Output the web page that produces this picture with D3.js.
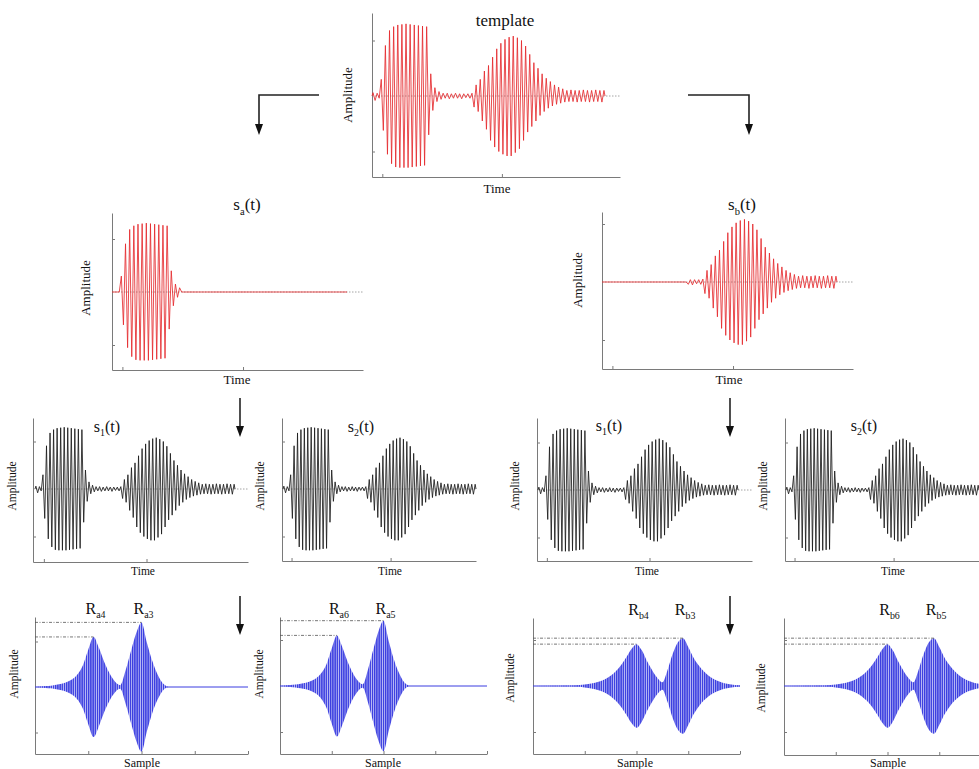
<!DOCTYPE html>
<html>
<head>
<meta charset="utf-8">
<script src="https://cdn.jsdelivr.net/npm/d3@7"></script>
<style>
  body { margin: 0; background: #fff; }
  svg { display: block; }
  text { font-family: "Liberation Serif", "Times New Roman", serif; fill: #111; }
</style>
</head>
<body>
<svg id="fig" width="979" height="769"></svg>
<script>
// ---- Signal data: successive half-cycle extrema of the received waveform ----
const leadIn  = [0.06, -0.08, 0.05, -0.04];
const burstA  = [0.30, -0.62, 0.91, -1.05, 1.18, -1.22, 1.25, -1.28, 1.28, -1.29,
                 1.29, -1.29, 1.30, -1.29, 1.29, -1.28, 1.28, -1.27, 1.27, -1.26,
                 1.26, -1.25, 1.25, -0.70, 0.40, -0.26, 0.15, -0.10, 0.08];
const ringing = [-0.06, 0.05, -0.04, 0.05, -0.05, 0.04, -0.04, 0.05,
                 -0.04, 0.04, -0.05, 0.04, -0.03, 0.04, -0.04, 0.05];
const burstB  = [-0.20, 0.20, -0.28, 0.30, -0.45, 0.45, -0.60, 0.55, -0.80, 0.70,
                 -0.92, 0.85, -1.00, 0.95, -1.05, 1.02, -1.08, 1.06, -1.08, 1.08,
                 -1.02, 1.05, -0.95, 1.00, -0.80, 0.90, -0.65, 0.75, -0.55, 0.60,
                 -0.45, 0.50, -0.35, 0.40, -0.28, 0.32, -0.22, 0.26, -0.18, 0.20,
                 -0.15, 0.16, -0.13, 0.13];
const tailB   = [-0.11, 0.10, -0.10, 0.11, -0.10, 0.10, -0.11, 0.10, -0.10, 0.11,
                 -0.10, 0.10, -0.11, 0.10, -0.10, 0.11, -0.10, 0.10, -0.11, 0.10];

// ---- Correlation envelopes (sample index, amplitude) ----
const corrASamples  = [0, 10, 20, 30, 40, 50, 60, 70, 80, 90, 100, 110, 120, 130, 140,
                       150, 160, 170, 180, 190, 200, 210, 220, 230, 240, 250];
const corrAEnvelope = [0, 0.01, 0.02, 0.03, 0.05, 0.07, 0.11, 0.17, 0.28, 0.48, 0.82, 1.10,
                       0.86, 0.55, 0.30, 0.12, 0.04, 0.36, 0.78, 1.18, 1.42, 0.98, 0.58,
                       0.28, 0.08, 0];
const corrBSamples  = [0, 80, 100, 120, 140, 160, 170, 180, 190, 200, 210, 220, 230, 240,
                       250, 260, 270, 280, 290, 300, 310, 320, 340, 360, 380, 400];
const corrBEnvelope = [0, 0.01, 0.03, 0.07, 0.15, 0.32, 0.45, 0.62, 0.80, 0.91, 0.78, 0.55,
                       0.35, 0.18, 0.08, 0.35, 0.70, 0.95, 1.04, 0.85, 0.62, 0.45, 0.22,
                       0.10, 0.04, 0.01];

// ---- Tick positions ----
const timeTicks   = [5, 63];
const ampTicks    = [-1, 1];
const sampleTicks = [0, 100, 200, 300, 400];

// ---- Derived signals ----
const zeros = n => new Array(n).fill(0);
const templateSignal = leadIn.concat(burstA, ringing, burstB, tailB);
const saSignal = zeros(leadIn.length).concat(burstA, zeros(ringing.length + burstB.length + tailB.length));
const sbSignal = zeros(leadIn.length + burstA.length + 8).concat(ringing.slice(8), burstB, tailB);
const signals = { template: templateSignal, sa: saSignal, sb: sbSignal };
const envelopes = {
  A: corrASamples.map((s, i) => [s, corrAEnvelope[i]]),
  B: corrBSamples.map((s, i) => [s, corrBEnvelope[i]])
};

const RED = "#e52a2e", BLACK = "#1b1b1b", BLUE = "#3a3de0", AXIS = "#7a7a7a";

const svg = d3.select("#fig");
const defs = svg.append("defs");
// vertical stripes standing in for the dense carrier of the correlation output
const pat = defs.append("pattern").attr("id", "carrier")
  .attr("patternUnits", "userSpaceOnUse").attr("width", 2.2).attr("height", 10);
pat.append("rect").attr("width", 2.2).attr("height", 10).attr("fill", "#c2c3f6");
pat.append("rect").attr("width", 1.4).attr("height", 10).attr("fill", BLUE);

function label(g, x, y, size, main, sub, tail, rotate) {
  const t = g.append("text").attr("text-anchor", "middle").attr("font-size", size);
  if (rotate) t.attr("transform", `translate(${x},${y}) rotate(-90)`);
  else t.attr("x", x).attr("y", y);
  t.append("tspan").text(main);
  if (sub) {
    t.append("tspan").attr("font-size", size * 0.62).attr("dy", size * 0.28).text(sub);
    if (tail) t.append("tspan").attr("dy", -size * 0.28).text(tail);
  }
  return t;
}

function axes(g, x, y, xTicks) {
  const bottom = y.range()[0];
  const gx = g.append("g").attr("transform", `translate(0,${bottom})`)
    .call(d3.axisBottom(x).tickValues(xTicks).tickSizeInner(-3).tickSizeOuter(0).tickFormat(""));
  const gy = g.append("g").attr("transform", `translate(${x.range()[0]},0)`)
    .call(d3.axisLeft(y).tickValues(ampTicks).tickSizeInner(-3).tickSizeOuter(0).tickFormat(""));
  [gx, gy].forEach(a => {
    a.selectAll("path,line").attr("stroke", AXIS).attr("stroke-width", 1);
  });
}

// ---- Time-domain panels ----
const timePanels = [
  { sig: "template", color: RED, left: 372, right: 620, top: 13, bottom: 177, zero: 96, unit: 55.5, span: [372, 605],
    title: ["template"], tx: 505, ty: 26, ts: 17, ly: [352, 95], lx: [497, 193], ls: 13 },
  { sig: "sa", color: RED, left: 112, right: 363, top: 213, bottom: 370, zero: 292, unit: 53, span: [112, 347],
    title: ["s", "a", "(t)"], tx: 247, ty: 210, ts: 17, ly: [90, 288], lx: [237, 384], ls: 13 },
  { sig: "sb", color: RED, left: 602, right: 853, top: 212, bottom: 369, zero: 282, unit: 58, span: [602, 837],
    title: ["s", "b", "(t)"], tx: 742, ty: 210, ts: 17, ly: [582, 280], lx: [729, 384], ls: 13 },
  { sig: "template", color: BLACK, left: 33, right: 248, top: 418, bottom: 562, zero: 489, unit: 47.5, span: [35, 235],
    title: ["s", "1", "(t)"], tx: 107, ty: 432, ts: 16, ly: [16, 486], lx: [143, 575], ls: 11.5 },
  { sig: "template", color: BLACK, left: 282, right: 476, top: 418, bottom: 561, zero: 489, unit: 47.5, span: [283, 476],
    title: ["s", "2", "(t)"], tx: 361, ty: 432, ts: 16, ly: [264, 486], lx: [390, 575], ls: 11.5 },
  { sig: "template", color: BLACK, left: 537, right: 752, top: 418, bottom: 561, zero: 490, unit: 47.5, span: [538, 738],
    title: ["s", "1", "(t)"], tx: 609, ty: 431, ts: 16, ly: [519, 486], lx: [647, 575], ls: 11.5 },
  { sig: "template", color: BLACK, left: 785, right: 979, top: 418, bottom: 561, zero: 490, unit: 47.5, span: [786, 979],
    title: ["s", "2", "(t)"], tx: 864, ty: 431, ts: 16, ly: [767, 486], lx: [893, 575], ls: 11.5 }
];

const wave = d3.line();

timePanels.forEach(p => {
  const values = signals[p.sig];
  const n = values.length;
  const ppu = (p.span[1] - p.span[0]) / n;
  const x = d3.scaleLinear()
    .domain([(p.left - p.span[0]) / ppu, n + (p.right - p.span[1]) / ppu])
    .range([p.left, p.right]);
  const y = d3.scaleLinear()
    .domain([-(p.bottom - p.zero) / p.unit, (p.zero - p.top) / p.unit])
    .range([p.bottom, p.top]);
  const g = svg.append("g");

  // dotted zero reference
  g.append("line")
    .attr("x1", x.range()[0]).attr("x2", x.range()[1])
    .attr("y1", y(0)).attr("y2", y(0))
    .attr("stroke", "#8d8d8d").attr("stroke-width", 0.8).attr("stroke-dasharray", "1.5,1.5");

  axes(g, x, y, timeTicks);

  const pts = [[0, 0]].concat(values.map((v, i) => [i + 0.5, v]), [[n, 0]]);
  wave.x(d => x(d[0])).y(d => y(d[1]));
  g.append("path").attr("d", wave(pts))
    .attr("fill", "none").attr("stroke", p.color).attr("stroke-width", 0.85)
    .attr("stroke-linejoin", "miter");

  label(g, p.tx, p.ty, p.ts, p.title[0], p.title[1], p.title[2]);
  label(g, p.ly[0], p.ly[1], p.ls, "Amplitude", null, null, true);
  label(g, p.lx[0], p.lx[1], p.ls, "Time");
});

// ---- Correlation panels ----
const corrPanels = [
  { env: "A", left: 35, right: 248, top: 617, bottom: 754, zero: 687, unit: 45.5,
    peaks: ["a4", "a3"], lty: 614, ly: [18, 674], lx: [142, 767] },
  { env: "A", left: 280, right: 487, top: 617, bottom: 754, zero: 686, unit: 46,
    peaks: ["a6", "a5"], lty: 614, ly: [263, 674], lx: [383, 767] },
  { env: "B", left: 533, right: 740, top: 618, bottom: 754, zero: 686, unit: 46,
    peaks: ["b4", "b3"], lty: 615, ly: [514, 678], lx: [635, 767] },
  { env: "B", left: 784, right: 991, top: 618, bottom: 755, zero: 686, unit: 46,
    peaks: ["b6", "b5"], lty: 615, ly: [765, 688], lx: [888, 767] }
];

corrPanels.forEach(p => {
  const data = envelopes[p.env];
  const x = d3.scaleLinear().domain([0, 400]).range([p.left, p.right]);
  const y = d3.scaleLinear()
    .domain([-(p.bottom - p.zero) / p.unit, (p.zero - p.top) / p.unit])
    .range([p.bottom, p.top]);
  const g = svg.append("g");

  axes(g, x, y, sampleTicks);

  // zero line of the correlation output
  g.append("line")
    .attr("x1", x(0)).attr("x2", x(400)).attr("y1", y(0)).attr("y2", y(0))
    .attr("stroke", BLUE).attr("stroke-width", 1);

  const area = d3.area().curve(d3.curveMonotoneX)
    .x(d => x(d[0])).y0(d => y(-d[1])).y1(d => y(d[1]));
  g.append("path").attr("d", area(data)).attr("fill", "url(#carrier)");

  // local maxima of the envelope -> correlation peaks
  const peaks = data.filter((d, i) => i > 0 && i < data.length - 1 &&
    d[1] > data[i - 1][1] && d[1] >= data[i + 1][1]);
  peaks.forEach((pk, k) => {
    g.append("line")
      .attr("x1", p.left).attr("x2", x(pk[0]))
      .attr("y1", y(pk[1])).attr("y2", y(pk[1]))
      .attr("stroke", "#555").attr("stroke-width", 0.8)
      .attr("stroke-dasharray", "3,1.5,1,1.5");
    label(g, x(pk[0]) + 2, p.lty, 16, "R", p.peaks[k]);
  });

  label(g, p.ly[0], p.ly[1], 11.5, "Amplitude", null, null, true);
  label(g, p.lx[0], p.lx[1], 12, "Sample");
});

// ---- Flow arrows ----
function arrow(points) {
  const [x1, y1] = points[points.length - 2];
  const [x2, y2] = points[points.length - 1];
  const len = Math.hypot(x2 - x1, y2 - y1);
  const ux = (x2 - x1) / len, uy = (y2 - y1) / len;
  const head = 11, half = 4;
  const shaft = points.slice(0, -1).concat([[x2 - ux * head, y2 - uy * head]]);
  svg.append("path").attr("d", d3.line()(shaft))
    .attr("fill", "none").attr("stroke", "#222").attr("stroke-width", 1.6);
  const bx = x2 - ux * head, by = y2 - uy * head;
  svg.append("path")
    .attr("d", `M${x2},${y2}L${bx - uy * half},${by + ux * half}L${bx + uy * half},${by - ux * half}Z`)
    .attr("fill", "#111");
}
arrow([[319, 95], [259, 95], [259, 135]]);
arrow([[688, 95], [749, 95], [749, 135]]);
arrow([[240, 398], [240, 437]]);
arrow([[730, 398], [730, 437]]);
arrow([[240, 596], [240, 635]]);
arrow([[730, 596], [730, 635]]);
</script>
</body>
</html>
